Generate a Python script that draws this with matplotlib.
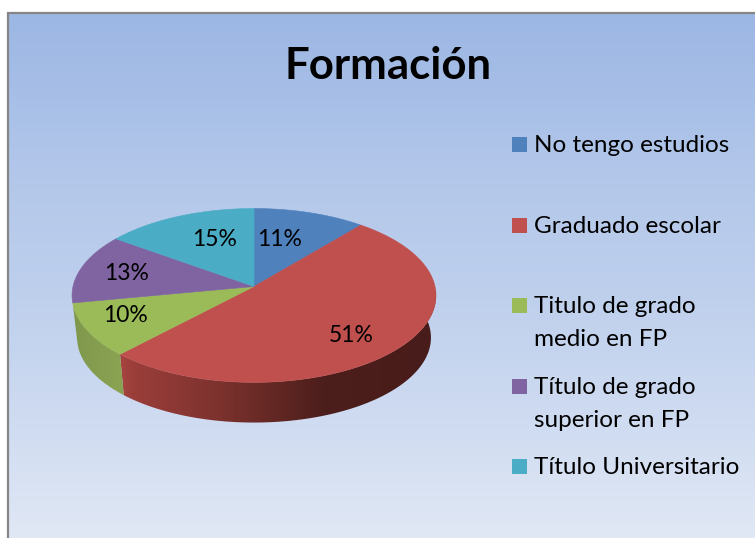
import numpy as np
import matplotlib
matplotlib.use('Agg')
import matplotlib.pyplot as plt
from matplotlib.patches import Polygon, Rectangle

plt.rcParams['font.family'] = ['Lato', 'DejaVu Sans']

title = 'Formación'
categories = ['No tengo estudios', 'Graduado escolar', 'Titulo de grado\nmedio en FP',
              'Título de grado\nsuperior en FP', 'Título Universitario']
values = [11, 51, 10, 13, 15]
colors = ['#4f81bd', '#c0504d', '#9bbb59', '#8064a2', '#4bacc6']


def rim(theta, a, b, c):
    # unit circle with a bit of perspective, theta clockwise from the top
    u, v = np.sin(theta), np.cos(theta)
    w = 1 + 0.103 * v
    return 254 + a * u / w, 286.5 - (b * v / w + c)


fig = plt.figure(figsize=(7.55, 5.38), dpi=100)
ax = fig.add_axes([0, 0, 1, 1])
ax.set_xlim(0, 755)
ax.set_ylim(538, 0)
ax.axis('off')

# background gradient
ys = np.arange(14, 539)
stops_y = [14, 190, 300, 430, 538]
stops = np.array([[156, 183, 228], [180, 200, 234], [191, 208, 237], [208, 220, 241], [225, 232, 245]]) / 255
grad = np.stack([np.interp(ys, stops_y, stops[:, i]) for i in range(3)], axis=1)[:, None, :]
ax.imshow(grad, extent=(8, 755, 538, 13), aspect='auto', zorder=0)
ax.plot([8, 8, 755], [538, 13, 13], color='#868686', lw=1.6, zorder=1, solid_joinstyle='miter')

fracs = np.cumsum([0] + values) / sum(values) * 2 * np.pi

# side wall: gradient image clipped to the visible band of each slice
wall_x = np.arange(60, 445)
wall_shades = {
    1: ([115, 133, 217, 283, 323, 440], [[172, 70, 66], [155, 62, 58], [125, 50, 46], [95, 38, 34], [76, 30, 28], [72, 28, 26]]),
    2: ([75, 115], [[128, 152, 76], [136, 162, 82]]),
}
for i, (xp, shade) in wall_shades.items():
    t0, t1 = max(fracs[i], np.pi / 2 - 0.1), min(fracs[i + 1], 3 * np.pi / 2 + 0.1)
    t = np.linspace(t0, t1, 200)
    xt, yt = rim(t, 181, 86, 0)
    xb, yb = rim(t[::-1], 176, 84, -42.4)
    shade = np.array(shade) / 255
    band = np.stack([np.interp(wall_x, xp, shade[:, c]) for c in range(3)], axis=1)[None, :, :]
    im = ax.imshow(band, extent=(60, 445, 430, 290), aspect='auto', zorder=2)
    clip = Polygon(np.c_[np.r_[xt, xb], np.r_[yt, yb]], transform=ax.transData)
    im.set_clip_path(clip)
ax.set_xlim(0, 755)
ax.set_ylim(538, 0)

# top face
for i, col in enumerate(colors):
    t = np.linspace(fracs[i], fracs[i + 1], 120)
    x, y = rim(t, 181, 86, 0)
    ax.add_patch(Polygon(np.c_[np.r_[254, x], np.r_[286.5, y]], fc=col, ec=col, lw=0.4, zorder=3))

# data labels
label_pos = [(280, 239), (351, 336), (125, 315), (127, 273), (215, 239)]
for val, (lx, ly) in zip(values, label_pos):
    ax.text(lx, ly, f'{val}%', ha='center', va='center', fontsize=16.5, color='black', zorder=4)

ax.text(388, 66, title, ha='center', va='center', fontsize=31.5, fontweight='bold', color='black')

# legend
legend_y = [144, 225, 305, 386, 466]
for name, col, ly in zip(categories, colors, legend_y):
    ax.add_patch(Rectangle((512, ly - 7.5), 15, 15, fc=col, ec='none', zorder=4))
    for j, line in enumerate(name.split('\n')):
        ax.text(534, ly + 1.5 + j * 33, line, ha='left', va='center', fontsize=17.5, color='black')

fig.savefig('out.png', dpi=100)
